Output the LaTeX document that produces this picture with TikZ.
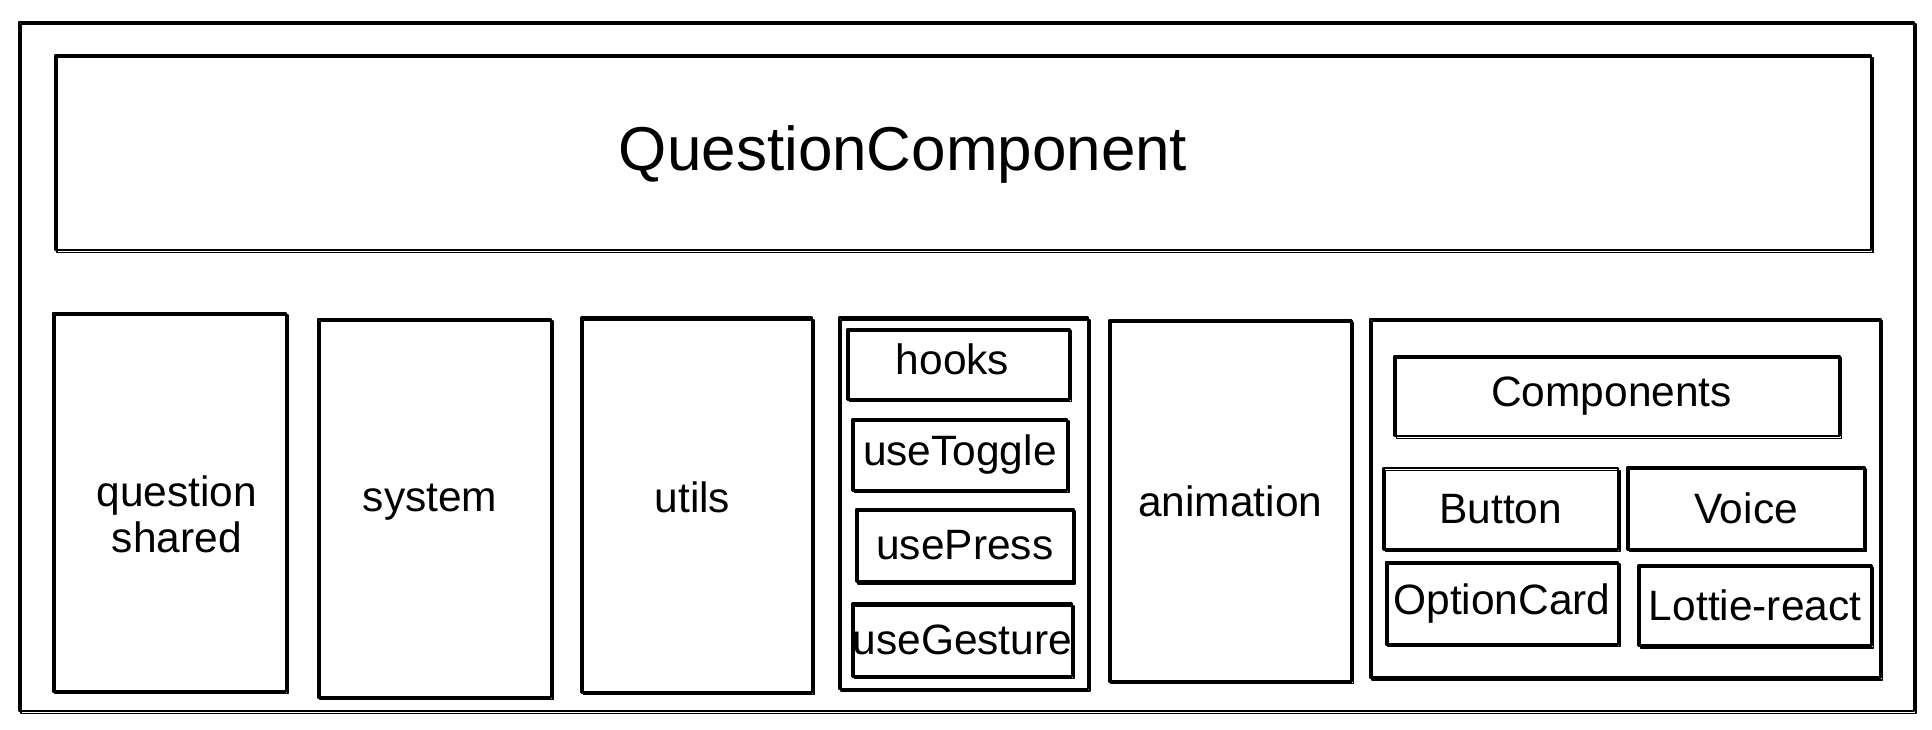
\documentclass[tikz,border=0pt]{standalone}
\usepackage{fontspec}
\setmainfont{Liberation Sans}
\usetikzlibrary{positioning}

\tikzset{
    sketch/.style={draw, line width=0.6pt, line join=round,
        postaction={draw, line width=0.35pt, transform canvas={shift={(0.45pt,-0.5pt)}}}},
    box/.style={sketch, rectangle, inner sep=0pt, align=center,
        font=\fontsize{9.8}{10.6}\selectfont},
    lbl/.style={inner sep=0pt, align=center, font=\fontsize{9.8}{10.6}\selectfont},
}

\begin{document}
\begin{tikzpicture}[x=0.01cm, y=-0.01cm]
    \useasboundingbox (0,0) rectangle (1568,592);

        % frame and header
        \node[box, minimum width=15.37cm, minimum height=5.59cm] (frame) at (784.5, 297.5) {};
        \node[box, minimum width=14.73cm, minimum height=1.58cm,
            label={[name=qctext, lbl, font=\fontsize{14.3}{16}\selectfont, xshift=-0.485cm, yshift=-0.01cm]center:QuestionComponent}] (qc) at (781.5, 124) {};

        % columns
        \node[box, minimum width=1.89cm, minimum height=3.07cm,
            label={[name=qstext, lbl, xshift=0.06cm, yshift=-0.1cm]center:question\\shared}] (qshared) at (137.5, 407.5) {};
        \node[box, minimum width=1.89cm, minimum height=3.07cm,
            label={[name=systext, lbl, xshift=-0.035cm, yshift=0.05cm]center:system}] (system) at (352.5, 412.5) {};
        \node[box, minimum width=1.87cm, minimum height=3.04cm,
            label={[name=utilstext, lbl, xshift=-0.035cm, yshift=0.06cm]center:utils}] (utils) at (565.5, 410) {};
        \node[box, minimum width=2.02cm, minimum height=3.01cm] (hookcol) at (782, 408.5) {};
        \node[box, minimum width=1.97cm, minimum height=2.93cm] (anim) at (998.5, 406.5) {animation};
        \node[box, minimum width=4.14cm, minimum height=2.91cm] (compcol) at (1319, 404.5) {};

        % hooks
        \node[box, minimum width=1.80cm, minimum height=0.57cm,
            label={[name=hookstext, lbl, xshift=-0.05cm, yshift=0.04cm]center:hooks}] (hooks) at (778, 295.5) {};
        \node[box, minimum width=1.74cm, minimum height=0.58cm] (toggle) at (779, 369) {useToggle};
        \node[box, minimum width=1.76cm, minimum height=0.59cm] (press) at (783, 442.5) {usePress};
        \node[box, minimum width=1.76cm, minimum height=0.59cm] (gesture) at (781, 519.5) {useGesture};

        % components
        \node[box, minimum width=3.61cm, minimum height=0.65cm,
            label={[name=compstext, lbl, xshift=-0.045cm]center:Components}] (comps) at (1312.5, 321.5) {};
        \node[box, minimum width=1.90cm, minimum height=0.66cm] (button) at (1218, 413) {Button};
        \node[box, minimum width=1.92cm, minimum height=0.67cm] (voice) at (1417, 412.5) {Voice};
        \node[box, minimum width=1.88cm, minimum height=0.67cm] (optcard) at (1219, 489.5) {OptionCard};
        \node[box, minimum width=1.89cm, minimum height=0.65cm] (lottie) at (1424.5, 491.5) {Lottie-react};

    \end{tikzpicture}
\end{document}
